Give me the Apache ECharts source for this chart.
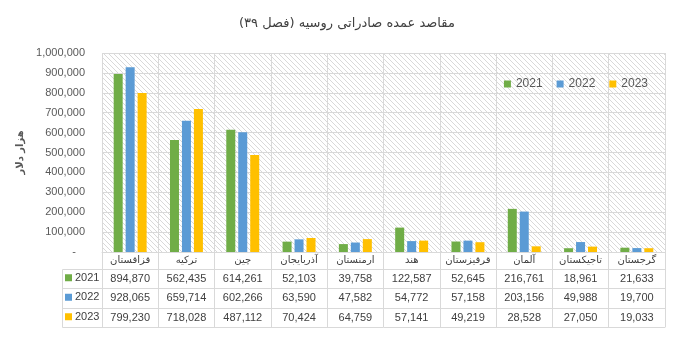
<!DOCTYPE html>
<html><head><meta charset="utf-8">
<script src="https://cdn.jsdelivr.net/npm/echarts@6/dist/echarts.min.js"></script>
<style>html,body{margin:0;padding:0;background:#fff}#c{width:675px;height:364px}</style>
</head><body><div id="c"></div>
<script>
const categories = ['قزاقستان','ترکیه','چین','آذربایجان','ارمنستان','هند','قرقیزستان','آلمان','تاجیکستان','گرجستان'];
const years = ['2021','2022','2023'];
const s2021 = [894870,562435,614261,52103,39758,122587,52645,216761,18961,21633];
const s2022 = [928065,659714,602266,63590,47582,54772,57158,203156,49988,19700];
const s2023 = [799230,718028,487112,70424,64759,57141,49219,28528,27050,19033];
const colors = ['#70AD47','#5B9BD5','#FFC000'];
const titleText = 'مقاصد عمده صادراتی روسیه (فصل ۳۹)';
const yName = 'هزار دلار';

const fmt = v => v.toLocaleString('en-US');
const fa = "'DejaVu Sans', sans-serif";
const lat = "'Liberation Sans', Arial, sans-serif";
const gridCol = '#D9D9D9';

// hatch pattern
const pc = document.createElement('canvas');
pc.width = 5; pc.height = 5;
const pctx = pc.getContext('2d');
pctx.fillStyle = '#fff'; pctx.fillRect(0,0,5,5);
pctx.fillStyle = '#D9D9D9';
for (let i = 0; i < 5; i++) pctx.fillRect(i, i, 1, 1);

const chart = echarts.init(document.getElementById('c'), null, {renderer:'canvas'});
const table = [s2021, s2022, s2023];
const offsets = [17, 36, 56];
const xAxes = [{
  type:'category', data:categories, position:'bottom', gridIndex:0,
  axisLine:{lineStyle:{color:gridCol}},
  axisTick:{show:true, length:75, lineStyle:{color:gridCol}},
  splitLine:{show:true, lineStyle:{color:gridCol}},
  axisLabel:{margin:3, fontFamily:fa, fontSize:10, color:'#404040', interval:0}
}];
table.forEach((arr, k) => {
  xAxes.push({
    type:'category', data:categories, position:'bottom', offset:offsets[k], gridIndex:0,
    axisLine:{lineStyle:{color:gridCol}}, axisTick:{show:false}, splitLine:{show:false},
    axisLabel:{margin:4, interval:0, fontFamily:lat, fontSize:11, color:'#404040',
      formatter:(v, i) => fmt(arr[i])}
  });
});
xAxes.push({
  type:'category', data:categories, position:'bottom', offset:75, gridIndex:0,
  axisLine:{lineStyle:{color:gridCol}}, axisTick:{show:false}, splitLine:{show:false},
  axisLabel:{show:false}
});

const series = years.map((y, k) => ({
  name:y, type:'bar', data:table[k], barWidth:9, barGap:'33%',
  itemStyle:{color:colors[k]}, xAxisIndex:0
}));

chart.setOption({
  animation:false,
  title:{text:titleText, left:234, top:12,
    textStyle:{fontFamily:fa, fontSize:13, fontWeight:'normal', color:'#404040'}},
  grid:{left:102, right:10, top:53, bottom:112, show:true,
    backgroundColor:{image:pc, repeat:'repeat'}, borderWidth:0},
  legend:[{
    data:years, right:22, top:73, itemWidth:7, itemHeight:7, itemGap:14,
    icon:'rect', textStyle:{fontFamily:lat, fontSize:12, color:'#595959'}
  },{
    data:years, orient:'vertical', left:62, top:271, itemWidth:7, itemHeight:7, itemGap:6,
    icon:'rect', selectedMode:false, padding:[0,0,0,3],
    textStyle:{fontFamily:lat, fontSize:11, color:'#404040', lineHeight:13.5, padding:[0,0,0,-2]}
  }],
  xAxis:xAxes,
  yAxis:{type:'value', min:0, max:1000000, interval:100000,
    name:yName, nameLocation:'middle', nameGap:75, nameRotate:90,
    nameTextStyle:{fontFamily:fa, fontSize:10, fontWeight:'bold', color:'#595959'},
    axisLine:{show:false}, axisTick:{show:false},
    splitLine:{lineStyle:{color:gridCol}},
    axisLabel:{margin:17, fontFamily:lat, fontSize:11, color:'#595959',
      formatter:v => v === 0 ? '-   ' : fmt(v)}},
  graphic:[
    {type:'rect', shape:{x:62.5, y:269.5, width:40, height:58}, style:{fill:'none', stroke:gridCol}},
    {type:'line', shape:{x1:62, y1:288.5, x2:102, y2:288.5}, style:{stroke:gridCol}},
    {type:'line', shape:{x1:62, y1:308.5, x2:102, y2:308.5}, style:{stroke:gridCol}}
  ],
  series:series
});
</script></body></html>
